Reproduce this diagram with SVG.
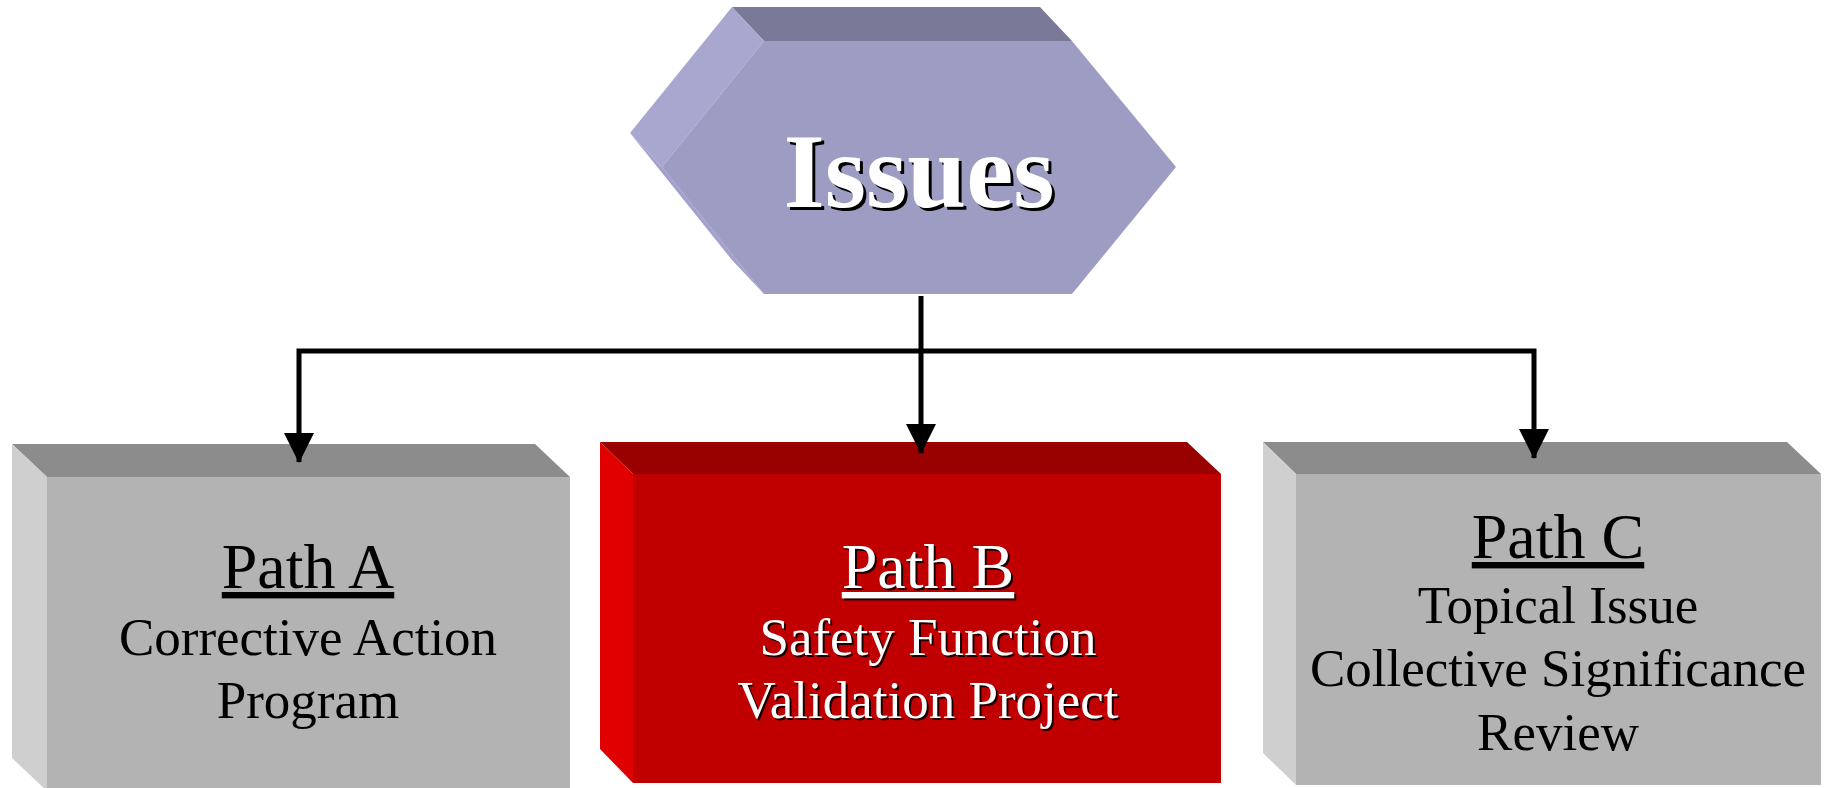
<svg xmlns="http://www.w3.org/2000/svg" width="1824" height="788" viewBox="0 0 1824 788">
<defs>
<style>
.bg{fill:#ffffff}
.gtop{fill:#8c8c8c}.gleft{fill:#cfcfcf}.gfront{fill:#b3b3b3}
.rtop{fill:#990000}.rleft{fill:#e00000}.rfront{fill:#c00000}
.htop{fill:#7a7a98}.hleft{fill:#a7a7d0}.hleft2{fill:#a1a1cc}.hfront{fill:#9d9dc4}
.t{font-family:"Liberation Serif","Times New Roman",serif;text-anchor:middle}
.title{font-size:64px;text-decoration:underline}
.body{font-size:53px}
.dark{fill:#000000}
.light{fill:#ffffff}
.shadow{fill:#1a0000}
.conn{fill:none;stroke:#000000;stroke-width:5;stroke-linejoin:miter}
</style>
<marker id="arrow" markerUnits="userSpaceOnUse" markerWidth="30" markerHeight="30" viewBox="0 0 30 30" refX="29" refY="15" orient="auto">
<path d="M0,0 L30,15 L0,30 z" fill="#000000"/>
</marker>
</defs>
<rect class="bg" x="0" y="0" width="1824" height="788"/>

<g id="node-issues">
<polygon class="htop" points="732,7 1040,7 1072,41 764,41"/>
<polygon class="hleft" points="732,7 764,41 662,167 630,133"/>
<polygon class="hleft2" points="630,133 662,167 764,294 732,260"/>
<polygon class="hfront" points="764,41 1072,41 1176,167 1072,294 764,294 662,167"/>
<text class="t" x="922" y="210" font-size="106" font-weight="bold" fill="#000000">Issues</text>
<text class="t" x="919" y="207" font-size="106" font-weight="bold" fill="#ffffff">Issues</text>
</g>

<g id="node-path-a">
<polygon class="gtop" points="12,444 535,444 570,477 47,477"/>
<polygon class="gleft" points="12,444 47,477 47,791 12,758"/>
<rect class="gfront" x="47" y="477" width="523" height="314"/>
<text class="t title dark" x="308" y="588">Path A</text>
<text class="t body dark" x="308" y="655">Corrective Action</text>
<text class="t body dark" x="308" y="718">Program</text>
</g>

<g id="node-path-b">
<polygon class="rtop" points="600,442 1187,442 1221,474 633,474"/>
<polygon class="rleft" points="600,442 633,474 633,783 600,749"/>
<rect class="rfront" x="633" y="474" width="588" height="309"/>
<text class="t title shadow" x="930" y="590">Path B</text>
<text class="t title light" x="928" y="588">Path B</text>
<text class="t body shadow" x="930" y="657">Safety Function</text>
<text class="t body light" x="928" y="655">Safety Function</text>
<text class="t body shadow" x="930" y="720">Validation Project</text>
<text class="t body light" x="928" y="718">Validation Project</text>
</g>

<g id="node-path-c">
<polygon class="gtop" points="1263,442 1787,442 1821,474 1296,474"/>
<polygon class="gleft" points="1263,442 1296,474 1296,785 1263,753"/>
<rect class="gfront" x="1296" y="474" width="525" height="311"/>
<text class="t title dark" x="1558" y="558">Path C</text>
<text class="t body dark" x="1558" y="623">Topical Issue</text>
<text class="t body dark" x="1558" y="686">Collective Significance</text>
<text class="t body dark" x="1558" y="750">Review</text>
</g>

<g id="connectors">
<path class="conn" d="M921,296 V453" marker-end="url(#arrow)"/>
<path class="conn" d="M921,351 H299 V462" marker-end="url(#arrow)"/>
<path class="conn" d="M921,351 H1534 V458" marker-end="url(#arrow)"/>
</g>
</svg>
